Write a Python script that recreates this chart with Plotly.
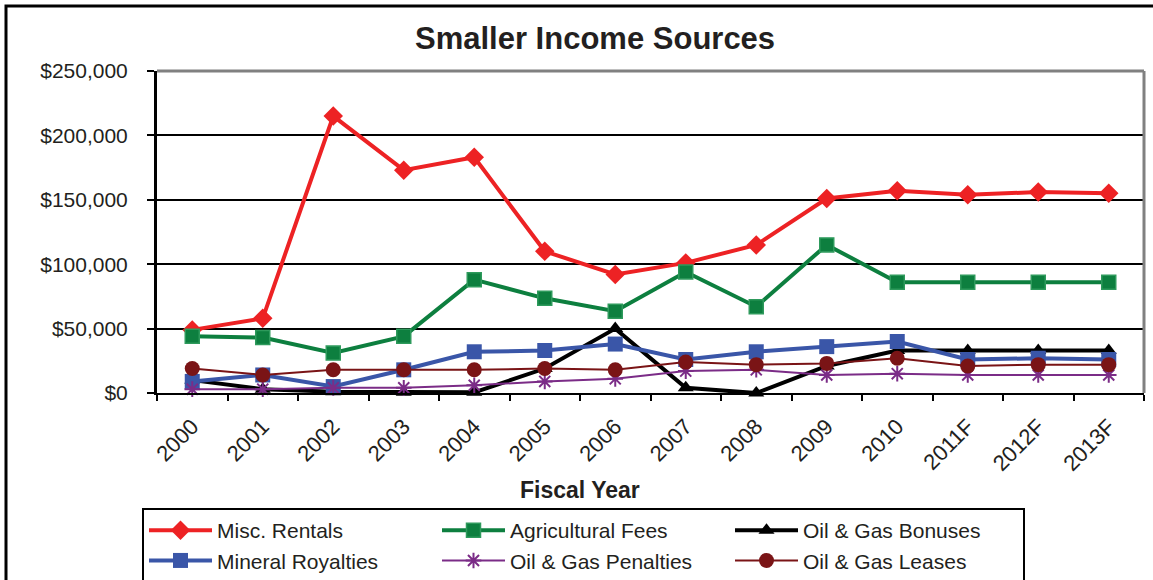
import plotly.graph_objects as go

years = ["2000", "2001", "2002", "2003", "2004", "2005", "2006", "2007",
         "2008", "2009", "2010", "2011F", "2012F", "2013F"]

misc_rentals = [49000, 58000, 215000, 173000, 183000, 110000, 92000, 101000,
                115000, 151000, 157000, 154000, 156000, 155000]
agricultural_fees = [44000, 43000, 31000, 44000, 88000, 73500, 63500, 94000,
                     67000, 115000, 86000, 86000, 86000, 86000]
oil_gas_bonuses = [10000, 3000, 1000, 500, 500, 19000, 50000, 4000,
                   0, 21000, 33000, 33000, 33000, 33000]
mineral_royalties = [9000, 14000, 5000, 18000, 32000, 33000, 38000, 26000,
                     32000, 36000, 40000, 26000, 27000, 26000]
oil_gas_penalties = [3000, 3000, 4000, 4000, 6000, 9000, 11000, 17000,
                     18000, 14000, 15000, 14000, 14000, 14000]
oil_gas_leases = [19000, 14000, 18000, 18000, 18000, 19000, 18000, 24000,
                  22000, 23000, 27000, 21000, 22000, 22000]

FONT = "Liberation Sans, Arial, sans-serif"
TXT = "#231F20"

W, H = 1153, 580
L, R, T, B = 157, 1144, 71, 393
pw, ph = R - L, B - T


def px_x(px):
    return (px - L) / pw


def px_y(py):
    return (B - py) / ph


series = [
    ("Misc. Rentals", misc_rentals, "#ED2224", 4, "diamond", 15, None),
    ("Agricultural Fees", agricultural_fees, "#0D7F3F", 4, "square", 14, "#2E9A5C"),
    ("Oil & Gas Bonuses", oil_gas_bonuses, "#000000", 4, "triangle-up", 14, None),
    ("Mineral Royalties", mineral_royalties, "#3A56A8", 4, "square", 15, None),
    ("Oil & Gas Penalties", oil_gas_penalties, "#7B2C87", 2, "asterisk-open", 13, None),
    ("Oil & Gas Leases", oil_gas_leases, "#7A1416", 2, "circle", 15, None),
]

fig = go.Figure()
for name, vals, color, lw, sym, size, edge in series:
    if sym == "asterisk-open":
        marker = dict(symbol=sym, size=size, color=color,
                      line=dict(color=color, width=2))
    else:
        marker = dict(symbol=sym, size=size, color=color,
                      line=dict(color=edge or color, width=1.5 if edge else 0))
    fig.add_trace(go.Scatter(
        x=years, y=vals, name=name, mode="lines+markers",
        line=dict(color=color, width=lw), marker=marker,
        cliponaxis=False,
    ))

fig.update_layout(
    width=W, height=H,
    margin=dict(l=L, r=W - R, t=T, b=H - B, autoexpand=False),
    paper_bgcolor="white", plot_bgcolor="white",
    font=dict(family=FONT, size=21, color=TXT),
    showlegend=True,
    legend=dict(
        orientation="h", x=px_x(142), y=px_y(508), xanchor="left", yanchor="top",
        entrywidth=215, entrywidthmode="pixels",
        bordercolor="black", borderwidth=2, bgcolor="white",
        font=dict(family=FONT, size=21, color=TXT),
        itemwidth=63, traceorder="normal",
    ),
    xaxis=dict(
        type="category", range=[-0.5, 13.5],
        showline=True, linecolor="black", linewidth=2,
        ticks="outside", tickson="boundaries", ticklen=6, tickwidth=2, tickcolor="black",
        tickangle=-45, tickfont=dict(family=FONT, size=22, color=TXT),
        ticklabelstandoff=10,
        showgrid=False, zeroline=False,
    ),
    yaxis=dict(
        range=[0, 250000], dtick=50000, tickprefix="$", tickformat=",",
        showline=True, linecolor="black", linewidth=3,
        ticks="outside", ticklen=7, tickwidth=2, tickcolor="black",
        ticklabelstandoff=15,
        showgrid=True, gridcolor="black", gridwidth=2,
        zeroline=True, zerolinecolor="black", zerolinewidth=2,
        tickfont=dict(family=FONT, size=21, color=TXT),
    ),
    annotations=[
        dict(text="<b>Smaller Income Sources</b>", xref="paper", yref="paper",
             x=px_x(595), y=px_y(38), xanchor="center", yanchor="middle",
             showarrow=False, font=dict(family=FONT, size=31, color=TXT)),
        dict(text="<b>Fiscal Year</b>", xref="paper", yref="paper",
             x=px_x(580), y=px_y(490), xanchor="center", yanchor="middle",
             showarrow=False, font=dict(family=FONT, size=23, color=TXT)),
    ],
    shapes=[
        dict(type="line", xref="paper", yref="paper", x0=0, x1=1, y0=1, y1=1,
             line=dict(color="#808080", width=3)),
        dict(type="line", xref="paper", yref="paper", x0=1, x1=1, y0=0, y1=1,
             line=dict(color="#808080", width=3)),
        dict(type="rect", xref="paper", yref="paper",
             x0=px_x(6), x1=px_x(1170), y0=px_y(600), y1=px_y(6),
             line=dict(color="black", width=3), fillcolor="rgba(0,0,0,0)",
             layer="below"),
    ],
)

fig.write_html("out.html",
               config={"displayModeBar": False},
               post_script="document.body.style.margin='0';document.body.style.overflow='hidden';")
